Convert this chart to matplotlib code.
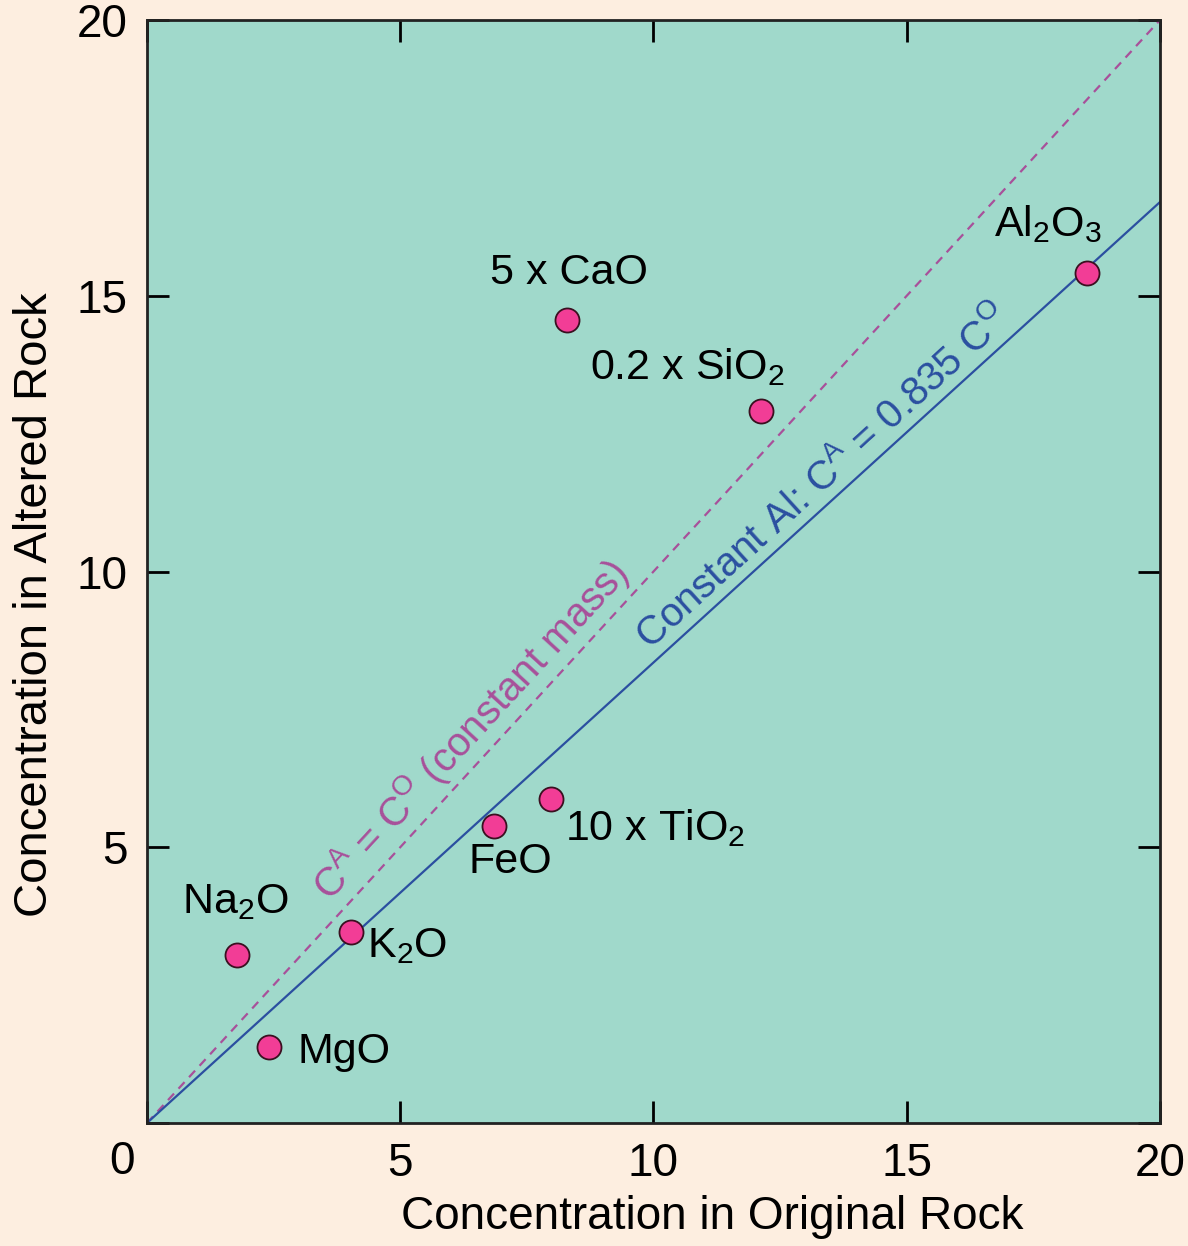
import matplotlib
matplotlib.use('Agg')
import matplotlib.pyplot as plt
import numpy as np

plt.rcParams['font.family'] = ['Liberation Sans', 'DejaVu Sans']
plt.rcParams['mathtext.fontset'] = 'custom'
plt.rcParams['mathtext.rm'] = 'Liberation Sans'
plt.rcParams['mathtext.it'] = 'Liberation Sans'

# oxide concentrations (wt %), original vs altered rock
names = ['Na$_2$O', 'MgO', 'K$_2$O', 'FeO', '10 x TiO$_2$',
         '5 x CaO', '0.2 x SiO$_2$', 'Al$_2$O$_3$']
c_orig = [1.78, 2.41, 4.03, 6.85, 7.98, 8.29, 12.12, 18.56]
c_alt = [3.05, 1.38, 3.46, 5.39, 5.87, 14.56, 12.91, 15.41]

# label positions and alignment
label_x = [1.74, 2.98, 4.34, 7.17, 8.25, 8.33, 10.66, 17.79]
label_y = [4.0, 1.29, 3.2, 4.73, 5.35, 15.41, 13.7, 16.3]
label_ha = ['center', 'left', 'left', 'center', 'left', 'center', 'center', 'center']

slope_al = 0.835

bg = '#fdeee0'
fig = plt.figure(figsize=(11.88, 12.46), dpi=100, facecolor=bg)
ax = fig.add_axes([0.1237, 0.0987, 0.8527, 0.8852])
ax.set_facecolor('#a0d9cb')

xs = np.array([0, 20])
ax.plot(xs, xs, ls=(0, (4, 3)), color='#a8509a', lw=1.6, zorder=2)
ax.plot(xs, slope_al * xs, color='#2b4fa0', lw=1.6, zorder=2)

ax.scatter(c_orig, c_alt, s=300, color='#f23d96', edgecolor='#3a1020',
           linewidth=1.3, zorder=3)

for n, x, y, ha in zip(names, label_x, label_y, label_ha):
    ax.text(x, y, n, fontsize=31, ha=ha, va='center', color='black')

ax.text(6.38, 7.13, r'C$^{\mathrm{A}}$ = C$^{\mathrm{O}}$ (constant mass)',
        fontsize=29, color='#a8509a', rotation=45, rotation_mode='anchor',
        transform_rotates_text=True, ha='center', va='center')
ax.text(13.35, 11.7, r'Constant Al: C$^{\mathrm{A}}$ = 0.835 C$^{\mathrm{O}}$',
        fontsize=29, color='#2b4fa0', rotation=np.degrees(np.arctan(slope_al)),
        rotation_mode='anchor', transform_rotates_text=True,
        ha='center', va='center')

ax.set_xlim(0, 20)
ax.set_ylim(0, 20)
ax.set_xticks([0, 5, 10, 15, 20])
ax.set_yticks([0, 5, 10, 15, 20])
ax.set_xticklabels(['', '5', '10', '15', '20'])
ax.set_yticklabels(['', '5', '10', '15', '20'])
ax.tick_params(direction='in', length=16, width=2, labelsize=33, pad=14,
               top=True, right=True)
for s in ax.spines.values():
    s.set_linewidth(2)
    s.set_color('#222222')
ax.text(-0.5, -0.7, '0', fontsize=33, ha='center', va='center')

ax.set_xlabel('Concentration in Original Rock', fontsize=33, labelpad=6, x=0.558)
ax.set_ylabel('Concentration in Altered Rock', fontsize=34, labelpad=14, y=0.47)

fig.savefig('out.png', dpi=100, facecolor=bg)
